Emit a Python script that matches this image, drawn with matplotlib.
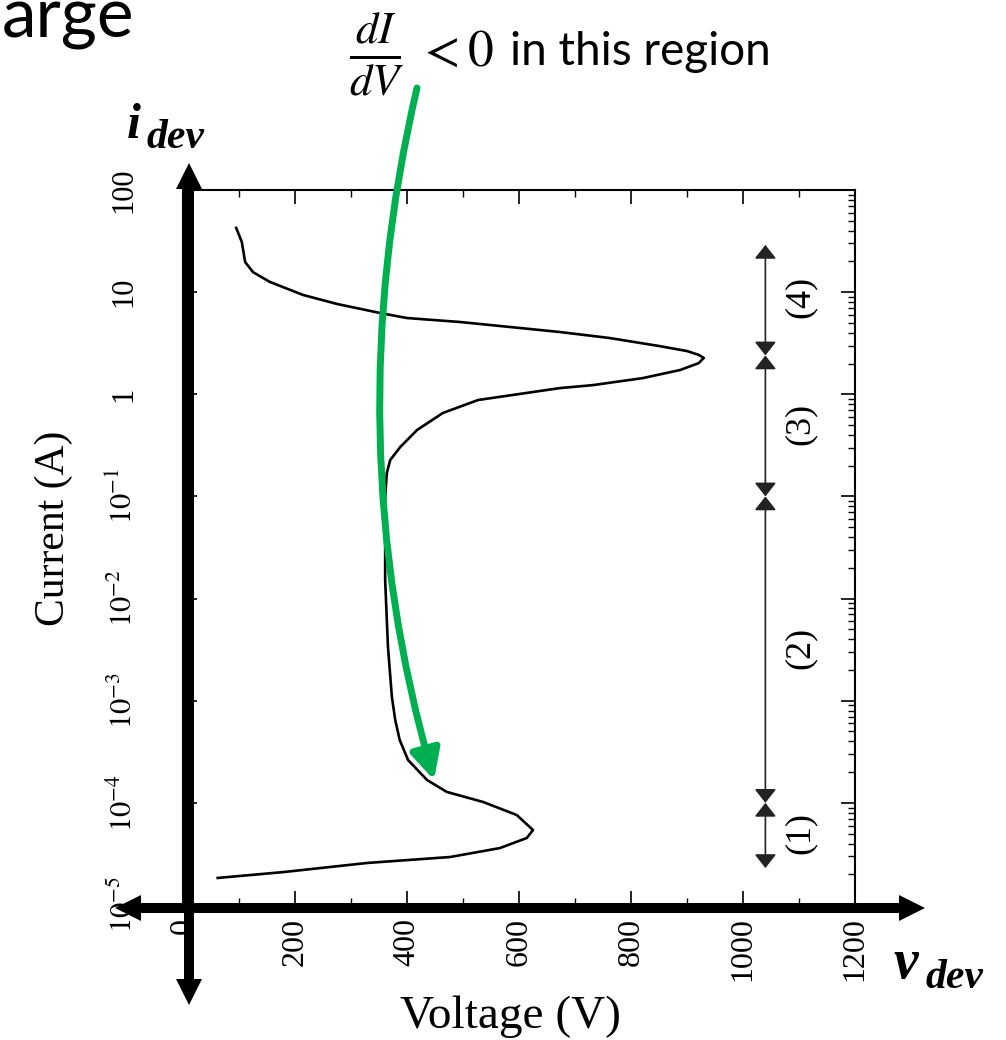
import matplotlib
matplotlib.use("Agg")
import matplotlib.pyplot as plt
from matplotlib.patches import FancyArrowPatch
from matplotlib.ticker import NullFormatter

# curva i-v de uma descarga em gas
volts = [95, 105, 111, 125, 155, 214, 275, 352, 400, 495, 673, 761, 850, 900,
         921, 930, 921, 888, 821, 732, 673, 527, 464, 418, 388, 370, 364, 361,
         361, 366, 373, 379, 387, 402, 436, 471, 536, 596, 625, 614, 566, 477,
         329, 179, 62]
amps = [42.5, 31.0, 19.7, 15.7, 12.6, 9.4, 7.66, 6.25, 5.58, 5.10, 4.07, 3.56,
        2.97, 2.65, 2.43, 2.27, 2.02, 1.73, 1.44, 1.23, 1.15, 0.879, 0.656, 0.447,
        0.305, 0.227, 0.170, 0.0986, 0.0152, 3.36e-3, 1.09e-3, 6.47e-4, 4.12e-4,
        2.62e-4, 1.67e-4, 1.28e-4, 1.02e-4, 7.60e-5, 5.42e-5, 4.53e-5, 3.61e-5,
        2.95e-5, 2.58e-5, 2.10e-5, 1.84e-5]

# eixos
x_ticks = [0, 200, 400, 600, 800, 1000, 1200]
x_labels = ["0", "200", "400", "600", "800", "1000", "1200"]
x_minor = [100, 300, 500, 700, 900, 1100]
y_ticks = [1e-5, 1e-4, 1e-3, 1e-2, 1e-1, 1, 10, 100]
y_labels = [r"$10^{-5}$", r"$10^{-4}$", r"$10^{-3}$", r"$10^{-2}$", r"$10^{-1}$",
            "1", "10", "100"]

# regioes (1)..(4) marcadas a direita
region_volt = 1040
region_bounds = [2.3e-5, 1e-4, 0.1, 2.4, 29]
region_names = ["(1)", "(2)", "(3)", "(4)"]
region_label_amps = [5.1e-5, 3.3e-3, 0.51, 9.0]
region_label_volt = 1102

W, H = 1006, 1040
plt.rcParams["mathtext.fontset"] = "stix"
serif = "Liberation Serif"

fig = plt.figure(figsize=(W / 100, H / 100), dpi=100)
ax = fig.add_axes([183 / W, 1 - 905 / H, (855 - 183) / W, (905 - 190) / H])
ax.plot(volts, amps, color="black", lw=1.9, solid_joinstyle="round")
ax.set_yscale("log")
ax.set_xlim(0, 1200)
ax.set_ylim(1e-5, 100)
ax.set_xticks(x_ticks)
ax.set_xticklabels(x_labels, rotation=90, fontsize=23, family=serif)
ax.set_xticks(x_minor, minor=True)
ax.set_yticks(y_ticks)
ax.set_yticklabels(y_labels, rotation=90, va="center", fontsize=22, family=serif)
ax.yaxis.set_minor_formatter(NullFormatter())
ax.tick_params(which="both", direction="in", top=True, right=True)
ax.tick_params(which="major", length=10, width=1.2)
ax.tick_params(which="minor", length=5, width=1)
ax.tick_params(axis="y", pad=32)
ax.tick_params(axis="x", pad=9)
for sp in ax.spines.values():
    sp.set_linewidth(1.5)

ax.set_ylabel("Current (A)", fontsize=30, family=serif)
ax.yaxis.set_label_coords(-0.163, 0.527)
ax.set_xlabel("Voltage (V)", fontsize=34, family=serif)
ax.xaxis.set_label_coords(0.488, -0.127)

# setas das regioes
for a, b in zip(region_bounds[:-1], region_bounds[1:]):
    ax.annotate("", xy=(region_volt, b), xytext=(region_volt, a),
                arrowprops=dict(arrowstyle="<|-|>,head_length=0.7,head_width=0.55",
                                mutation_scale=12, lw=1.2, color="#222222",
                                shrinkA=0, shrinkB=0))
for name, ya in zip(region_names, region_label_amps):
    ax.text(region_label_volt, ya, name, rotation=90, ha="center", va="center",
            fontsize=26, family=serif)

# camada por cima, em pixels da imagem
ov = fig.add_axes([0, 0, 1, 1], zorder=5)
ov.set_xlim(0, W)
ov.set_ylim(H, 0)
ov.axis("off")

arrow_kw = dict(width=10, head_width=26, head_length=26, length_includes_head=True,
                color="black", lw=0)
ov.arrow(189, 584, 0, -421, **arrow_kw)
ov.arrow(189, 584, 0, 421, **arrow_kw)
ov.arrow(520, 908, -405, 0, **arrow_kw)
ov.arrow(520, 908, 405, 0, **arrow_kw)

green = FancyArrowPatch((417, 88), (434, 780), connectionstyle="arc3,rad=0.13",
                        arrowstyle="-|>,head_length=0.9,head_width=0.45",
                        mutation_scale=20, lw=5, color="#00B050",
                        shrinkA=0, shrinkB=0)
ov.add_patch(green)

bi = dict(family=serif, style="italic", weight="bold")
ov.text(127, 138, "i", fontsize=36, ha="left", va="baseline", **bi)
ov.text(147, 148, "dev", fontsize=30, ha="left", va="baseline", **bi)
ov.text(893, 978, "v", fontsize=40, ha="left", va="baseline", **bi)
ov.text(926, 988, "dev", fontsize=30, ha="left", va="baseline", **bi)

ov.text(2, 37, "arge", fontsize=50, family="Lato", ha="left", va="baseline")
ov.text(349, 55, r"$\frac{dI}{dV}$", fontsize=46, ha="left", va="center")
ov.text(417, 66, r"$<0$", fontsize=37, ha="left", va="baseline")
ov.text(510, 65, "in this region", fontsize=33, family="Lato",
        ha="left", va="baseline")

fig.savefig("out.png", dpi=100)
